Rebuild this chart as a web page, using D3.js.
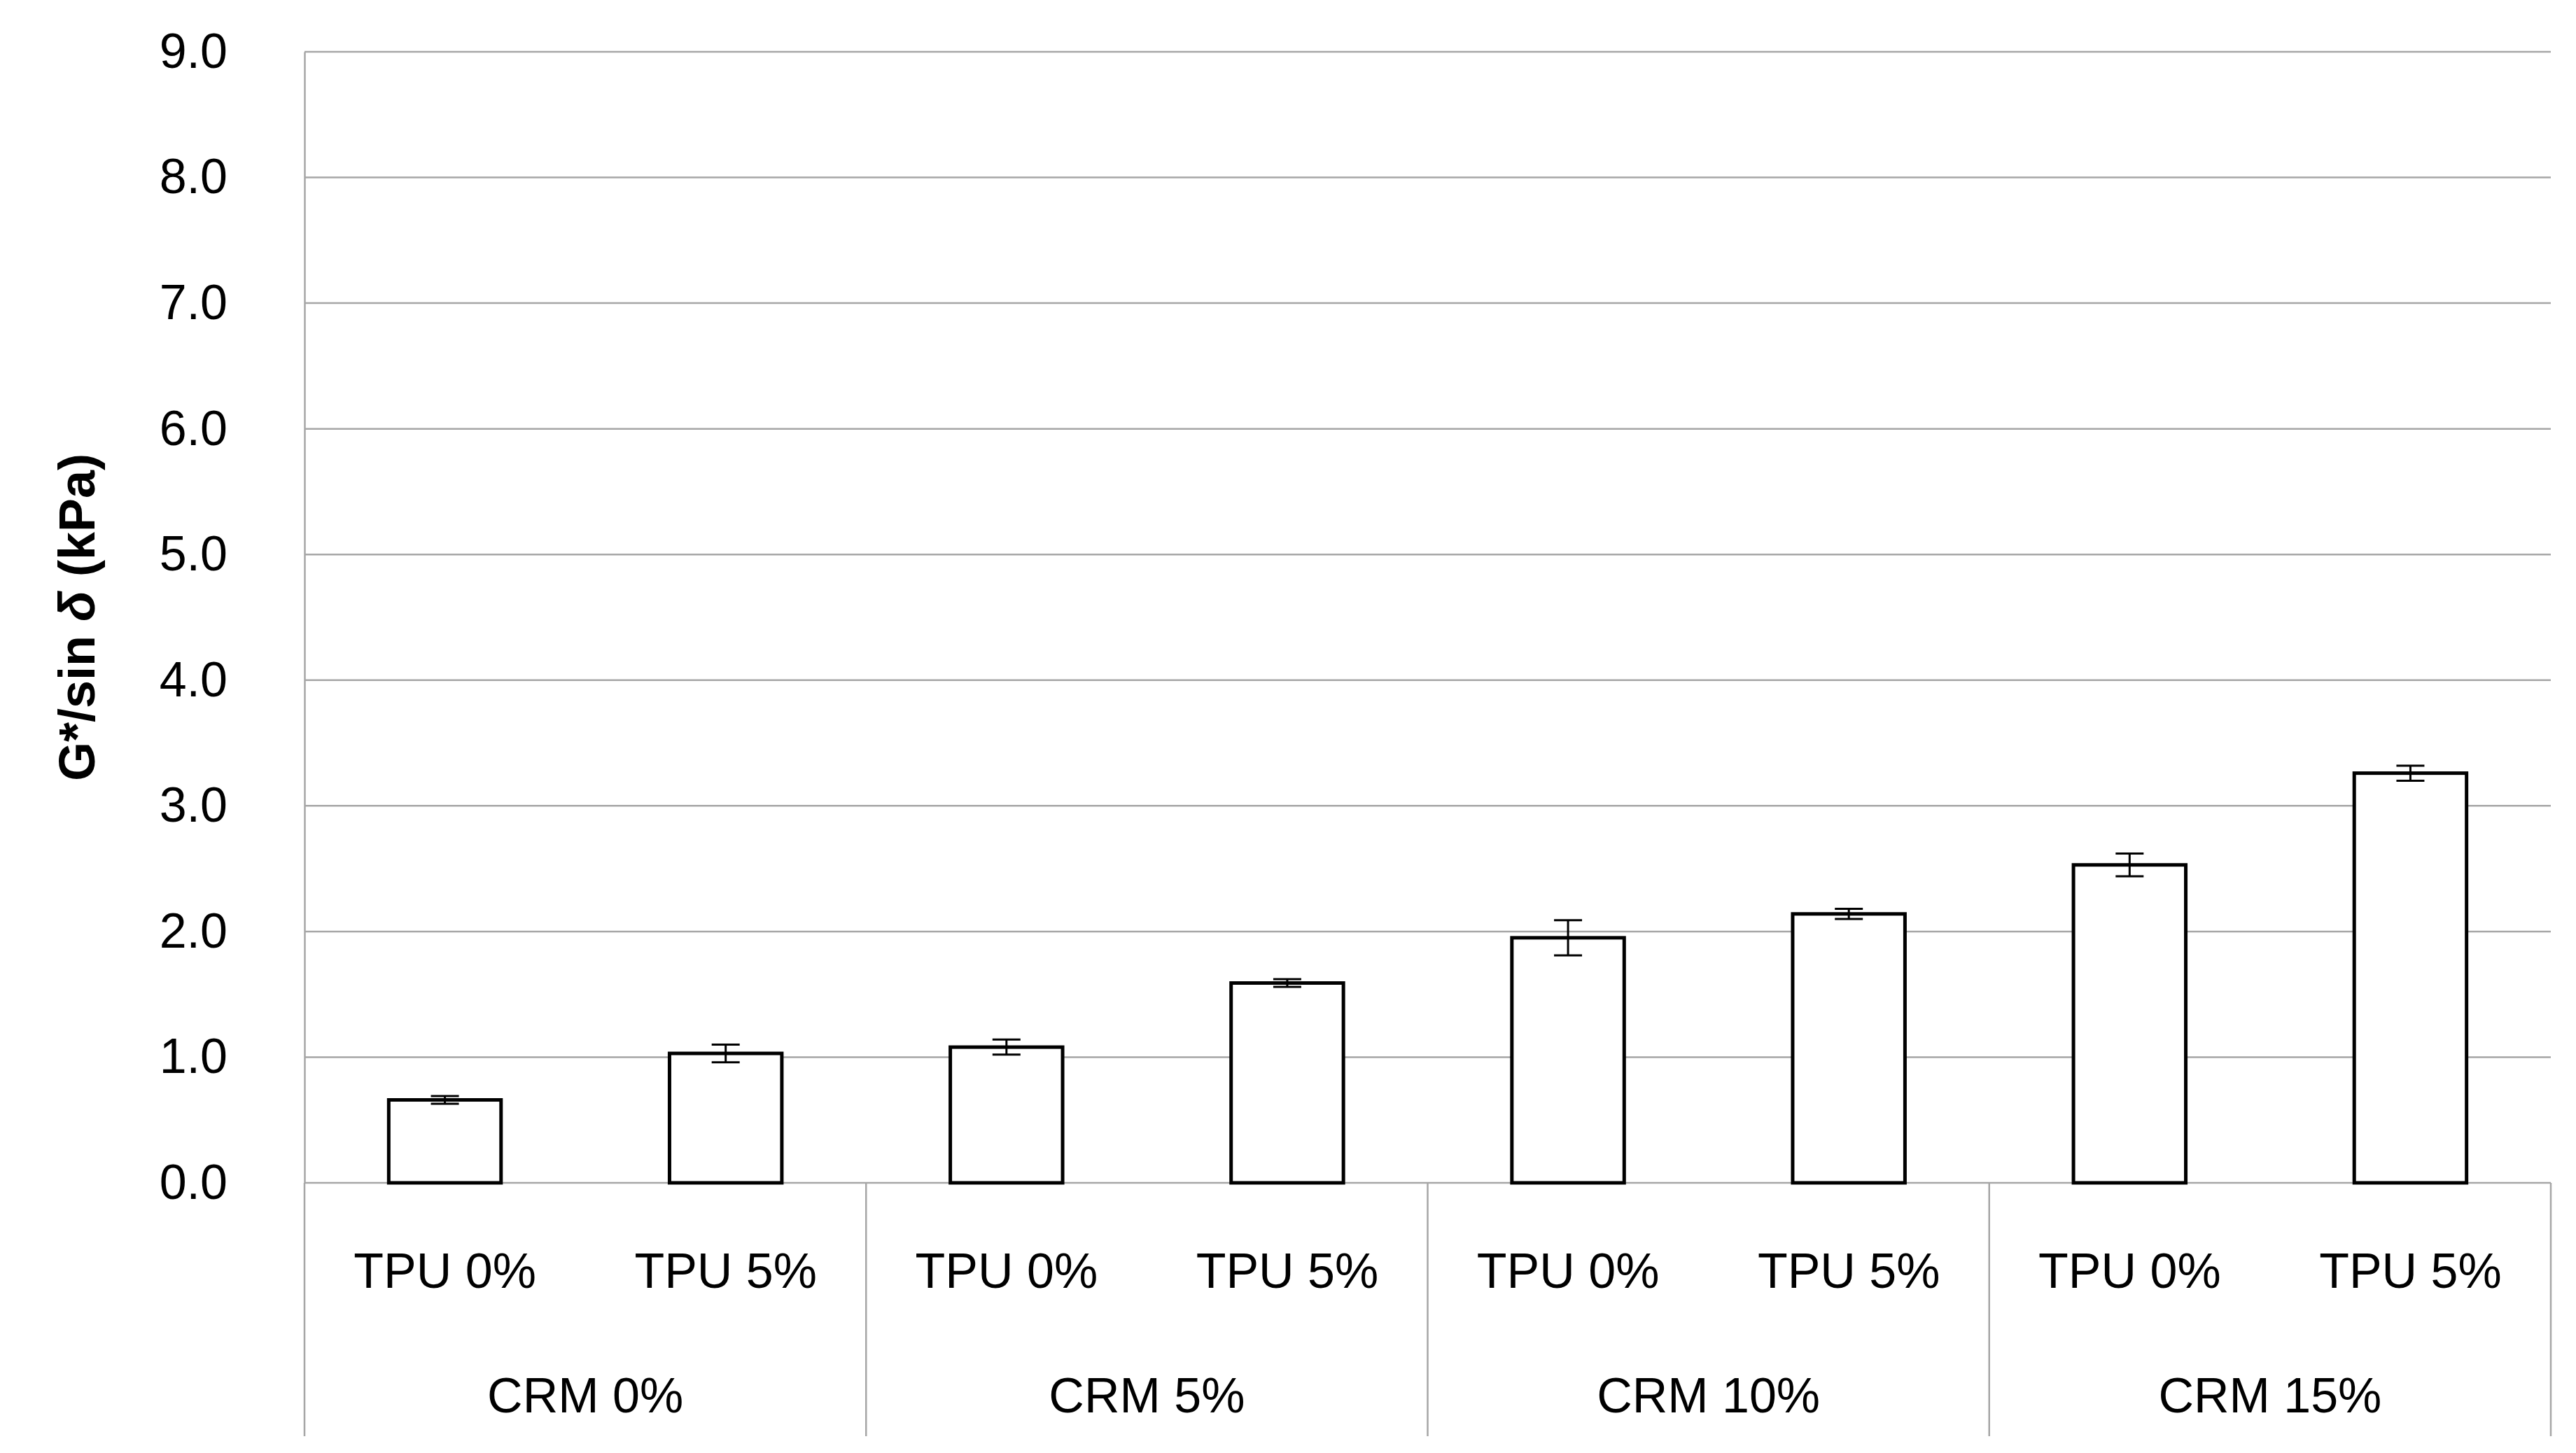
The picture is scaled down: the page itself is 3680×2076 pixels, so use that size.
<html>
<head>
<script src="https://cdn.jsdelivr.net/npm/d3@7"></script>
<style>
body{margin:0;background:#fff;}
text{font-family:"Liberation Sans",Arial,sans-serif;fill:#000;}
</style>
</head>
<body>
<svg id="chart" width="3680" height="2076"></svg>
<script>
var groups = ["CRM 0%", "CRM 5%", "CRM 10%", "CRM 15%"];
var subs = ["TPU 0%", "TPU 5%"];
var values = [0.66, 1.03, 1.08, 1.59, 1.95, 2.14, 2.53, 3.26];
var errors = [0.03, 0.07, 0.06, 0.03, 0.14, 0.04, 0.09, 0.06];
var yTicks = [0, 1, 2, 3, 4, 5, 6, 7, 8, 9];

var plotLeft = 435, plotRight = 3644, plotTop = 74, base = 1690;
var svg = d3.select("#chart");

var y = d3.scaleLinear().domain([0, 9]).range([base, plotTop]);
var keys = [];
groups.forEach(function(g){ subs.forEach(function(s){ keys.push(g + "|" + s); }); });
var x = d3.scaleBand().domain(keys).range([plotLeft, plotRight]).paddingInner(0.6).paddingOuter(0.3);
var xg = d3.scaleBand().domain(groups).range([plotLeft, plotRight]);

// gridlines
svg.append("g").selectAll("line").data(yTicks).enter().append("line")
	.attr("x1", plotLeft).attr("x2", plotRight)
	.attr("y1", function(d){ return y(d); }).attr("y2", function(d){ return y(d); })
	.attr("stroke", "#a6a6a6").attr("stroke-width", 2.5);

// y axis
var yAxis = svg.append("g").attr("transform", "translate(" + plotLeft + ",0)")
	.call(d3.axisLeft(y).tickValues(yTicks).tickFormat(d3.format(".1f")).tickSize(0).tickPadding(110));
yAxis.select(".domain").attr("stroke", "#a6a6a6").attr("stroke-width", 2.5);
yAxis.selectAll("text").style("font-size", "70px").style("font-family", "'Liberation Sans', Arial, sans-serif");

// category axis lines
var dividers = groups.map(function(g){ return xg(g); }).concat([plotRight]);
svg.append("g").selectAll("line").data(dividers).enter().append("line")
	.attr("x1", function(d){ return d; }).attr("x2", function(d){ return d; })
	.attr("y1", base).attr("y2", 2052)
	.attr("stroke", "#a6a6a6").attr("stroke-width", 2.5);

// bars
svg.append("g").selectAll("rect").data(keys).enter().append("rect")
	.attr("x", function(d){ return x(d); })
	.attr("width", x.bandwidth())
	.attr("y", function(d, i){ return y(values[i]); })
	.attr("height", function(d, i){ return base - y(values[i]); })
	.attr("fill", "#fff").attr("stroke", "#000").attr("stroke-width", 5);

// error bars
var eb = svg.append("g").selectAll("g").data(keys).enter().append("g")
	.attr("stroke", "#000").attr("stroke-width", 3);
eb.append("line")
	.attr("x1", function(d){ return x(d) + x.bandwidth()/2; })
	.attr("x2", function(d){ return x(d) + x.bandwidth()/2; })
	.attr("y1", function(d, i){ return y(values[i] + errors[i]); })
	.attr("y2", function(d, i){ return y(values[i] - errors[i]); });
[1, -1].forEach(function(s){
	eb.append("line")
		.attr("x1", function(d){ return x(d) + x.bandwidth()/2 - 20; })
		.attr("x2", function(d){ return x(d) + x.bandwidth()/2 + 20; })
		.attr("y1", function(d, i){ return y(values[i] + s*errors[i]); })
		.attr("y2", function(d, i){ return y(values[i] + s*errors[i]); });
});

// sub labels
svg.append("g").selectAll("text").data(keys).enter().append("text")
	.attr("x", function(d){ return x(d) + x.bandwidth()/2; })
	.attr("y", 1840).attr("text-anchor", "middle")
	.style("font-size", "70px")
	.text(function(d){ return d.split("|")[1]; });

// group labels
svg.append("g").selectAll("text").data(groups).enter().append("text")
	.attr("x", function(d){ return xg(d) + xg.bandwidth()/2; })
	.attr("y", 2018).attr("text-anchor", "middle")
	.style("font-size", "70px")
	.text(function(d){ return d; });

// y title
var t = svg.append("text")
	.attr("transform", "translate(135," + ((plotTop + base)/2) + ") rotate(-90)")
	.attr("text-anchor", "middle")
	.style("font-size", "72px").style("font-weight", "bold");
t.append("tspan").text("G*/sin ");
t.append("tspan").style("font-style", "italic").text("δ");
t.append("tspan").text(" (kPa)");
</script>
</body>
</html>
